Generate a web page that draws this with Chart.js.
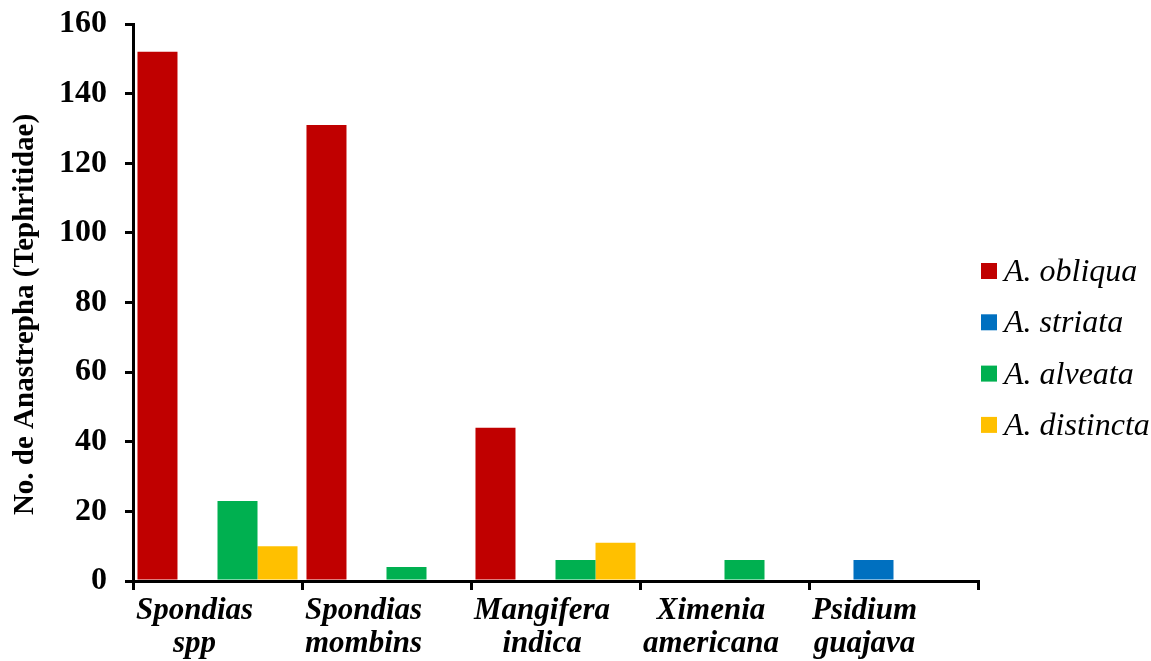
<!DOCTYPE html>
<html>
<head>
<meta charset="utf-8">
<script src="https://cdn.jsdelivr.net/npm/chart.js@4/dist/chart.umd.min.js"></script>
<style>
  html, body { margin: 0; padding: 0; background: #fff; }
  #wrap { width: 1151px; height: 661px; position: relative; }
</style>
</head>
<body>
<div id="wrap"><canvas id="c" width="1151" height="661"></canvas></div>
<script>
// Host plants (two-line labels)
const hosts = [
  ['Spondias', 'spp'],
  ['Spondias', 'mombins'],
  ['Mangifera', 'indica'],
  ['Ximenia', 'americana'],
  ['Psidium', 'guajava']
];

// Anastrepha species and counts per host
const speciesNames = ['A. obliqua', 'A. striata', 'A. alveata', 'A. distincta'];
const obliqua   = [152, 131, 44, 0, 0];
const striata   = [0, 0, 0, 0, 6];
const alveata   = [23, 4, 6, 6, 0];
const distincta = [10, 0, 11, 0, 0];

const yTicks = [0, 20, 40, 60, 80, 100, 120, 140, 160];
const yTitle = 'No. de Anastrepha (Tephritidae)';

const colors = ['#C00000', '#0070C0', '#00B050', '#FFC000'];
const serif = '"Liberation Serif", "Times New Roman", serif';

const seriesData = [obliqua, striata, alveata, distincta];

// Category labels, axis title and legend drawn on the canvas
const extras = {
  id: 'extras',
  afterDraw(chart) {
    const ctx = chart.ctx;
    const x = chart.scales.x;
    const area = chart.chartArea;
    ctx.save();
    ctx.fillStyle = '#000';

    // category labels
    ctx.font = 'italic bold 31px ' + serif;
    ctx.textAlign = 'center';
    ctx.textBaseline = 'alphabetic';
    const catW = (area.right - area.left) / hosts.length;
    hosts.forEach((lines, i) => {
      const start = x.getPixelForValue(i) - catW / 2;
      const w = Math.max(...lines.map(l => ctx.measureText(l).width));
      const cx = start + w / 2 + 3;
      lines.forEach((l, j) => ctx.fillText(l, cx, area.bottom + 38 + j * 33));
    });

    // y axis title
    ctx.save();
    ctx.font = 'bold 29px ' + serif;
    ctx.translate(33, (area.top + area.bottom) / 2 + 12);
    ctx.rotate(-Math.PI / 2);
    ctx.textAlign = 'center';
    ctx.textBaseline = 'alphabetic';
    ctx.fillText(yTitle, 0, 0);
    ctx.restore();

    // legend
    ctx.font = 'italic 32px ' + serif;
    ctx.textAlign = 'left';
    ctx.textBaseline = 'alphabetic';
    const lx = area.right + 3;
    const ly0 = 271;
    speciesNames.forEach((name, i) => {
      const cy = ly0 + i * 51.3;
      ctx.fillStyle = colors[i];
      ctx.fillRect(lx, cy - 8, 16, 16);
      ctx.fillStyle = '#000';
      ctx.fillText(name, lx + 23, cy + 10);
    });
    ctx.restore();
  }
};

new Chart(document.getElementById('c'), {
  type: 'bar',
  data: {
    labels: hosts,
    datasets: speciesNames.map((name, i) => ({
      label: name,
      data: seriesData[i],
      backgroundColor: colors[i],
      borderWidth: 0,
      categoryPercentage: 0.947,
      barPercentage: 1.0
    }))
  },
  options: {
    responsive: false,
    animation: false,
    layout: { padding: { left: 0, right: 173, top: 24, bottom: 0 } },
    plugins: {
      legend: { display: false },
      tooltip: { enabled: false }
    },
    scales: {
      x: {
        offset: true,
        border: { color: '#000', width: 3 },
        grid: {
          offset: true,
          drawOnChartArea: false,
          drawTicks: true,
          tickLength: 9,
          color: '#000',
          lineWidth: 3
        },
        ticks: { display: false },
        afterFit(s) { s.height = 80; s.paddingLeft = 0; s.paddingRight = 0; }
      },
      y: {
        min: 0,
        max: 160,
        afterBuildTicks(s) { s.ticks = yTicks.map(v => ({ value: v })); },
        border: { color: '#000', width: 3 },
        grid: {
          drawOnChartArea: false,
          drawTicks: true,
          tickLength: 8,
          color: '#000',
          lineWidth: 3
        },
        ticks: {
          color: '#000',
          padding: 18,
          font: { family: serif, size: 32, weight: 'bold' }
        },
        afterFit(s) { s.width = 133; s.paddingTop = 0; s.paddingBottom = 0; }
      }
    }
  },
  plugins: [extras]
});
</script>
</body>
</html>
